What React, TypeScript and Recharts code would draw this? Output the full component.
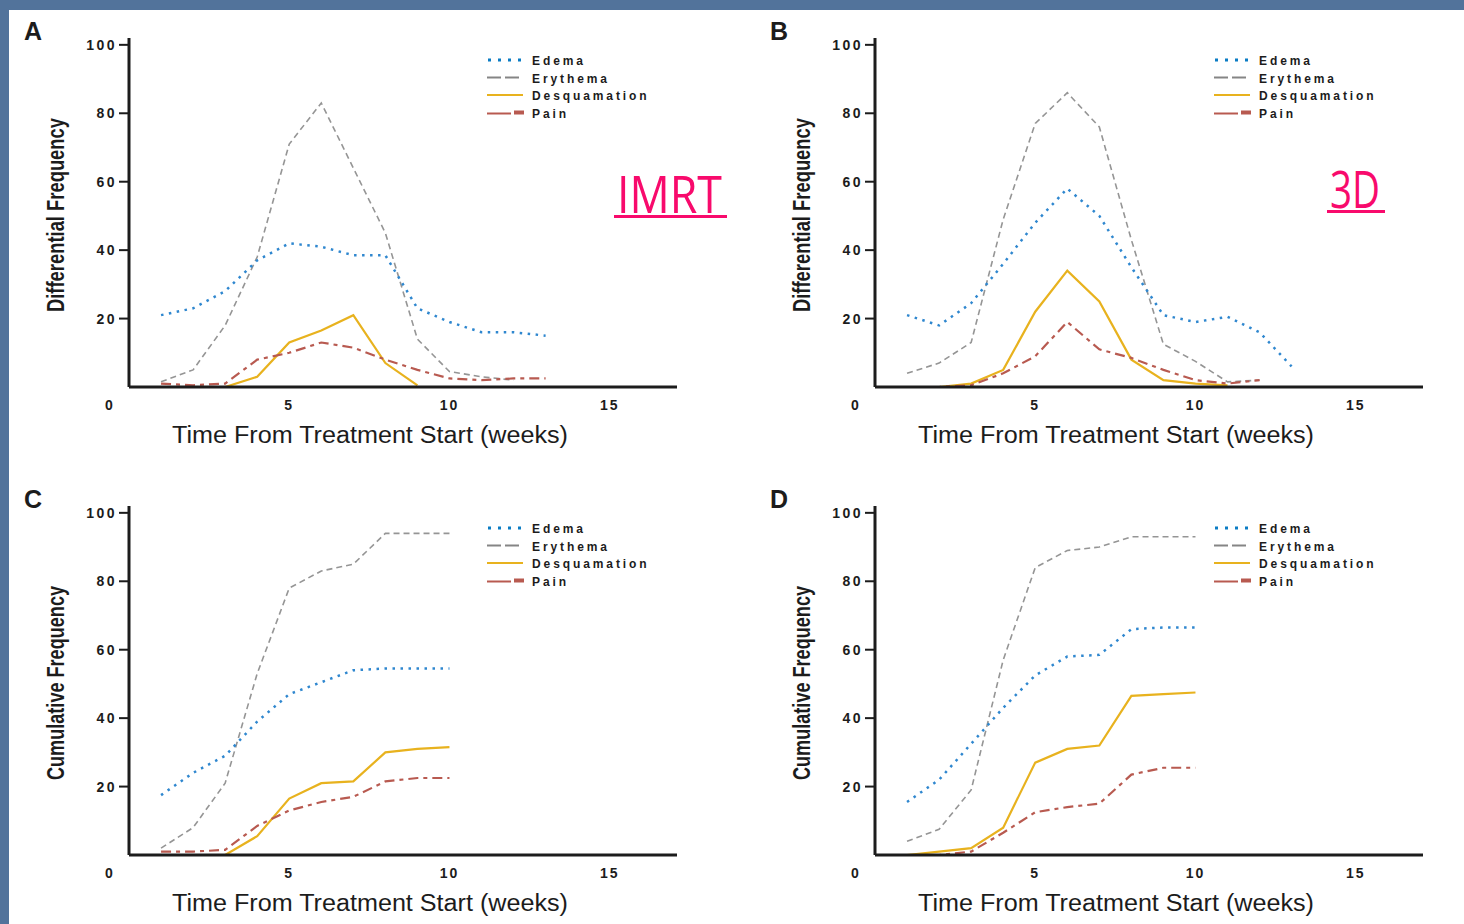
import React from "react";
import { LineChart, Line, XAxis, YAxis, Legend } from "recharts";

// weeks from treatment start
const weeks = [1, 2, 3, 4, 5, 6, 7, 8, 9, 10, 11, 12, 13];

// A - IMRT, differential frequency
const edemaA = [21, 23, 28, 37, 42, 41, 38.5, 38.5, 23, 19, 16, 16, 15];
const erythemaA = [1.5, 5, 18, 38, 71, 83, 64, 45, 14, 4.5, 3, 2];
const desqA = [0, 0, 0, 3, 13, 16.5, 21, 7, 0.5];
const painA = [1, 0.5, 1, 8, 10, 13, 11.5, 8, 5, 2.5, 2, 2.5, 2.5];

// B - 3D, differential frequency
const edemaB = [21, 18, 24.5, 36, 48, 58, 50, 35, 21, 19, 20.5, 16, 6];
const erythemaB = [4, 7, 13, 49, 77, 86, 76, 43, 12.5, 7.5, 1.5, 2];
const desqB = [0, 0, 1, 5, 22, 34, 25, 8, 2, 1, 0.5];
const painB = [0, 0, 0.5, 4, 9, 19, 11, 8.5, 5, 2, 1, 2];

// C - IMRT, cumulative frequency
const edemaC = [17.5, 24, 29, 39, 47, 50.5, 54, 54.5, 54.5, 54.5];
const erythemaC = [2, 8, 21, 53, 78, 83, 85, 94, 94, 94];
const desqC = [0, 0, 0, 5.5, 16.5, 21, 21.5, 30, 31, 31.5];
const painC = [1, 1, 1.5, 8.5, 13, 15.5, 17, 21.5, 22.5, 22.5];

// D - 3D, cumulative frequency
const edemaD = [15.5, 22, 32.5, 43, 52.5, 58, 58.5, 66, 66.5, 66.5];
const erythemaD = [4, 7.5, 19, 57, 84, 89, 90, 93, 93, 93];
const desqD = [0, 1, 2, 8, 27, 31, 32, 46.5, 47, 47.5];
const painD = [0, 0, 1, 6.5, 12.5, 14, 15, 23.5, 25.5, 25.5];

const xTicks = [0, 5, 10, 15];
const yTicks = [20, 40, 60, 80, 100];
const seriesNames = ["Edema", "Erythema", "Desquamation", "Pain"];

const W = 718;
const H = 456;
const INK = "#1c1c1c";
const BLUE = "#2f87cf";
const GRAY = "#959595";
const GOLD = "#e8b21e";
const RED = "#b85a50";
const PINK = "#f80a6c";
const TICK_FONT = "'Liberation Sans', Arial, sans-serif";

const YTick = (props: any) => {
	const { x, y, payload } = props;
	return (
		<text x={x} y={y + 5} textAnchor="end" fill={INK} fontFamily={TICK_FONT} fontWeight="bold" fontSize={14} letterSpacing={2.5}>
			{payload.value}
		</text>
	);
};

const XTick = (props: any) => {
	const { x, y, payload } = props;
	const shift = payload.value === 0 ? -19 : 0;
	return (
		<text x={x + shift} y={y + 23} textAnchor="middle" fill={INK} fontFamily={TICK_FONT} fontWeight="bold" fontSize={14} letterSpacing={2}>
			{payload.value}
		</text>
	);
};

const KeyBox = () => (
	<svg width={200} height={75}>
		{seriesNames.map((name, i) => {
			const y = 10 + i * 17.5;
			return (
				<g key={name}>
					{i === 0 && <line x1={1} x2={37} y1={y} y2={y} stroke="#0b7cc4" strokeWidth={3} strokeDasharray="3 7" />}
					{i === 1 && <line x1={0} x2={36} y1={y} y2={y} stroke="#858585" strokeWidth={2} strokeDasharray="14 4" />}
					{i === 2 && <line x1={0} x2={36} y1={y} y2={y} stroke={GOLD} strokeWidth={2} />}
					{i === 3 && (
						<>
							<line x1={0} x2={24} y1={y + 1} y2={y + 1} stroke={RED} strokeWidth={2} />
							<rect x={27} y={y - 2} width={10} height={4} fill={RED} />
						</>
					)}
					<text x={45} y={y + 5} fill={INK} fontFamily={TICK_FONT} fontWeight="bold" fontSize={12} letterSpacing={2.9}>
						{name}
					</text>
				</g>
			);
		})}
	</svg>
);

type PanelProps = {
	left: number;
	top: number;
	letter: string;
	yLabel: string;
	legendX: number;
	tag?: { text: string; x: number; y: number; width: number };
	edema: number[];
	erythema: number[];
	desq: number[];
	pain: number[];
};

const Panel = ({ left, top, letter, yLabel, legendX, tag, edema, erythema, desq, pain }: PanelProps) => {
	const rows = weeks.map((w, i) => ({
		week: w,
		edema: edema[i],
		erythema: erythema[i],
		desq: desq[i],
		pain: pain[i],
	}));

	return (
		<div style={{ position: "absolute", left, top, width: W, height: H }}>
			<LineChart width={W} height={H} data={rows} margin={{ top: 38, right: 41, bottom: 39, left: 69 }}>
				<XAxis
					dataKey="week"
					type="number"
					domain={[0, 17.1]}
					ticks={xTicks}
					interval={0}
					height={30}
					tickLine={false}
					tickSize={0}
					tickMargin={0}
					axisLine={{ stroke: INK, strokeWidth: 3 }}
					tick={<XTick />}
					allowDataOverflow
				/>
				<YAxis
					type="number"
					domain={[0, 102]}
					ticks={yTicks}
					interval={0}
					width={60}
					tickSize={10}
					tickMargin={2}
					tickLine={{ stroke: INK, strokeWidth: 2 }}
					axisLine={{ stroke: INK, strokeWidth: 3 }}
					tick={<YTick />}
					allowDataOverflow
				/>
				<Legend
					layout="vertical"
					align="center"
					verticalAlign="middle"
					content={() => <KeyBox />}
					wrapperStyle={{ left: legendX, top: 50, width: 200, height: 75 }}
				/>
				<Line dataKey="erythema" type="linear" stroke={GRAY} strokeWidth={1.6} strokeDasharray="6 4" dot={false} isAnimationActive={false} />
				<Line dataKey="edema" type="linear" stroke={BLUE} strokeWidth={2.5} strokeDasharray="2.5 5.5" dot={false} isAnimationActive={false} />
				<Line dataKey="desq" type="linear" stroke={GOLD} strokeWidth={2.2} dot={false} isAnimationActive={false} />
				<Line dataKey="pain" type="linear" stroke={RED} strokeWidth={2.2} strokeDasharray="10 5 4 5" dot={false} isAnimationActive={false} />
			</LineChart>
			<svg width={W} height={H} style={{ position: "absolute", left: 0, top: 0, pointerEvents: "none", overflow: "visible" }}>
				<text x={24} y={40} fill={INK} fontFamily={TICK_FONT} fontWeight="bold" fontSize={25}>
					{letter}
				</text>
				<text
					transform="translate(64,215) rotate(-90)"
					textAnchor="middle"
					textLength={194}
					lengthAdjust="spacingAndGlyphs"
					fill={INK}
					fontFamily="'Liberation Sans Narrow', 'Liberation Sans', Arial, sans-serif"
					fontWeight="bold"
					fontSize={24}
				>
					{yLabel}
				</text>
				<text
					x={370}
					y={443}
					textAnchor="middle"
					textLength={396}
					lengthAdjust="spacingAndGlyphs"
					fill={INK}
					fontFamily={TICK_FONT}
					fontSize={23}
				>
					Time From Treatment Start (weeks)
				</text>
				{tag && (
					<>
						<text
							x={tag.x}
							y={tag.y}
							textLength={tag.width - 8}
							lengthAdjust="spacingAndGlyphs"
							fill={PINK}
							fontFamily="'Open Sans', 'Noto Sans', sans-serif"
							fontSize={52}
						>
							{tag.text}
						</text>
						<rect x={tag.x - 3} y={tag.y + 2} width={tag.width} height={3} fill={PINK} />
					</>
				)}
			</svg>
		</div>
	);
};

export default function App() {
	return (
		<div style={{ position: "absolute", left: 0, top: 0, width: 1464, height: 924, background: "#52739b", overflow: "hidden" }}>
			<div style={{ position: "absolute", left: 9, top: 10, right: 0, bottom: 0, background: "#ffffff" }} />
			<Panel
				left={0}
				top={0}
				letter="A"
				yLabel="Differential Frequency"
				legendX={487}
				tag={{ text: "IMRT", x: 617, y: 213, width: 113 }}
				edema={edemaA}
				erythema={erythemaA}
				desq={desqA}
				pain={painA}
			/>
			<Panel
				left={746}
				top={0}
				letter="B"
				yLabel="Differential Frequency"
				legendX={468}
				tag={{ text: "3D", x: 584, y: 208, width: 58 }}
				edema={edemaB}
				erythema={erythemaB}
				desq={desqB}
				pain={painB}
			/>
			<Panel
				left={0}
				top={468}
				letter="C"
				yLabel="Cumulative Frequency"
				legendX={487}
				edema={edemaC}
				erythema={erythemaC}
				desq={desqC}
				pain={painC}
			/>
			<Panel
				left={746}
				top={468}
				letter="D"
				yLabel="Cumulative Frequency"
				legendX={468}
				edema={edemaD}
				erythema={erythemaD}
				desq={desqD}
				pain={painD}
			/>
		</div>
	);
}
